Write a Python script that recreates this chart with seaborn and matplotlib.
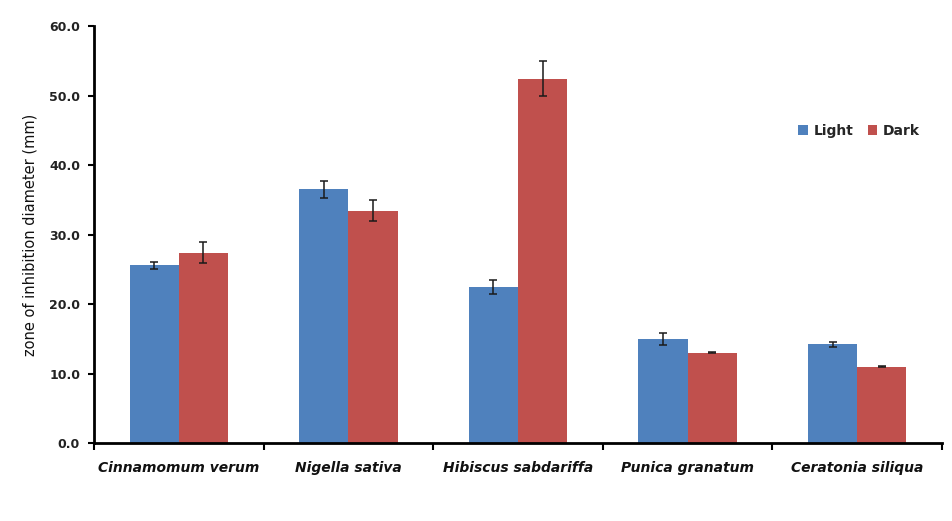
import matplotlib
matplotlib.use("Agg")
import matplotlib.pyplot as plt
import seaborn as sns
import pandas as pd
import numpy as np

species = ["Cinnamomum verum", "Nigella sativa", "Hibiscus sabdariffa",
           "Punica granatum", "Ceratonia siliqua"]
light = [25.6, 36.5, 22.5, 15.0, 14.2]
dark = [27.4, 33.4, 52.4, 13.0, 11.0]
light_err = [0.5, 1.2, 1.0, 0.9, 0.4]
dark_err = [1.5, 1.5, 2.5, 0.05, 0.05]
conditions = ["Light", "Dark"]
yticks = [0, 10, 20, 30, 40, 50, 60]

sns.set_theme(style="white")
plt.rcParams["font.family"] = ["DejaVu Sans"]

df = pd.DataFrame({
    "species": species * 2,
    "condition": ["Light"] * len(species) + ["Dark"] * len(species),
    "value": light + dark,
    "err": light_err + dark_err,
})

fig = plt.figure(figsize=(9.53, 5.21), dpi=100)
ax = fig.add_axes([0.0986, 0.1497, 0.8899, 0.8003])

palette = {"Light": "#4F81BD", "Dark": "#C0504D"}
sns.barplot(data=df, x="species", y="value", hue="condition",
            hue_order=conditions, order=species, palette=palette,
            width=0.58, gap=0, errorbar=None, saturation=1,
            linewidth=0, ax=ax)

# error bars centred on each bar
for cond, container in zip(conditions, ax.containers):
    sub = df[df["condition"] == cond].set_index("species").loc[species]
    xs = [p.get_x() + p.get_width() / 2 for p in container.patches]
    ax.errorbar(xs, sub["value"], yerr=sub["err"], fmt="none",
                ecolor="#1a1a1a", elinewidth=1.1, capsize=3, capthick=1.1)

ax.set_xlim(-0.5, len(species) - 0.5)
ax.set_ylim(0, 60)
ax.set_yticks(yticks)
ax.set_yticklabels([f"{v:.1f}" for v in yticks], fontsize=9, fontweight="bold",
                   color="#222222")

# category labels centred, ticks at group boundaries
ax.set_xticks(np.arange(len(species)))
ax.set_xticklabels(species, fontsize=10, fontstyle="italic", fontweight="bold",
                   color="#111111")
ax.tick_params(axis="x", which="major", length=0, pad=13)
ax.set_xticks(np.arange(len(species) + 1) - 0.5, minor=True)
ax.tick_params(axis="x", which="minor", length=5, width=1.5, direction="out",
               color="black", bottom=True)
ax.tick_params(axis="y", length=4, width=1.5, direction="out", color="black",
               left=True, pad=6)

for side in ["top", "right"]:
    ax.spines[side].set_visible(False)
for side in ["left", "bottom"]:
    ax.spines[side].set_color("black")
    ax.spines[side].set_linewidth(2)

ax.set_xlabel("")
ax.set_ylabel("zone of inhibition diameter (mm)", fontsize=10.5,
              fontfamily=["Liberation Sans Narrow", "DejaVu Sans"],
              labelpad=8, color="#111111")

leg = ax.legend(loc="upper left", bbox_to_anchor=(0.816, 0.795), ncol=2,
                frameon=False, handlelength=0.7, handleheight=0.7,
                handletextpad=0.4, columnspacing=1.0,
                prop={"weight": "bold", "size": 10})

fig.savefig("out.png", dpi=100, facecolor="white")
